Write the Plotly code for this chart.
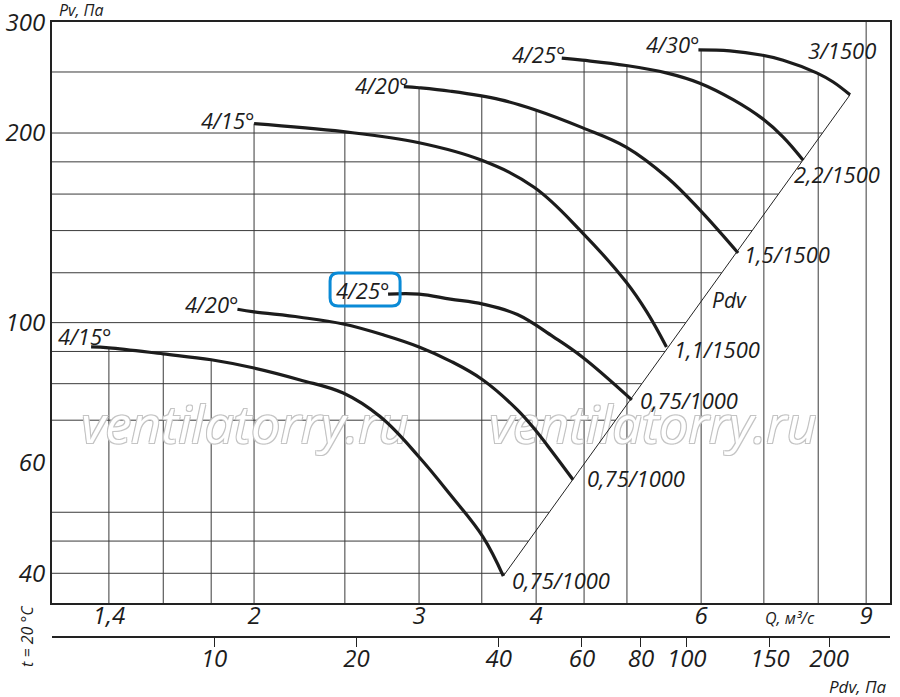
import numpy as np
import plotly.graph_objects as go

# fan curves, Q in m3/s and Pv in Pa
q_415_1000 = [1.34, 1.40, 1.60, 1.80, 2.00, 2.24, 2.49, 2.73, 3.00, 3.24, 3.51, 3.69]
pv_415_1000 = [91.5, 91.2, 89.2, 87.3, 84.7, 81.1, 77.3, 70.8, 61.2, 53.3, 45.7, 39.6]

q_420_1000 = [1.92, 2.00, 2.24, 2.49, 2.75, 3.00, 3.24, 3.51, 3.82, 3.99, 4.17, 4.38]
pv_420_1000 = [105, 104, 102, 99.5, 95.6, 91.5, 86.9, 81.1, 72.7, 67.6, 62.1, 56.3]

q_425_1000 = [2.78, 3.00, 3.24, 3.51, 3.82, 4.17, 4.48, 5.06]
pv_425_1000 = [111, 111, 109, 107, 103, 95, 88.2, 75.4]

q_415_1500 = [2.00, 2.49, 3.00, 3.50, 3.98, 4.48, 4.99, 5.25, 5.51]
pv_415_1500 = [207, 201, 193, 181, 164, 139, 116, 104, 91.5]

q_420_1500 = [2.89, 3.00, 3.24, 3.66, 3.98, 4.48, 4.99, 5.52, 5.98, 6.57]
pv_420_1500 = [237, 236, 233, 226, 218, 204, 190, 170, 151, 129]

q_425_1500 = [4.26, 4.48, 4.99, 5.52, 5.98, 6.49, 6.97, 7.34, 7.71]
pv_425_1500 = [263, 261, 256, 249, 240, 226, 211, 197, 181]

q_430_1500 = [5.96, 6.44, 6.95, 7.34, 7.98, 8.30, 8.65]
pv_430_1500 = [271, 270, 266, 261, 249, 241, 230]

start_labels = ["4/15°", "4/20°", "4/25°", "4/15°", "4/20°", "4/25°", "4/30°"]
end_labels = ["0,75/1000", "0,75/1000", "0,75/1000", "1,1/1500",
              "1,5/1500", "2,2/1500", "3/1500"]

# grid and ticks
q_grid = [1.4, 1.6, 1.8, 2, 2.5, 3, 3.5, 4, 4.5, 5, 6, 7, 8, 9]
pv_grid = [40, 45, 50, 70, 80, 90, 100, 120, 140, 160, 180, 200, 250]
q_ticks = [1.4, 2, 3, 4, 6, 9]
q_ticktext = ["1,4", "2", "3", "4", "6", "9"]
pv_ticks = [40, 60, 100, 200, 300]
pdv_ticks = [10, 20, 40, 60, 80, 100, 150, 200]

x_range = [0.0854, 0.9797]
y_range = [1.5549, 2.4773]

curves = [
    (q_415_1000, pv_415_1000),
    (q_420_1000, pv_420_1000),
    (q_425_1000, pv_425_1000),
    (q_415_1500, pv_415_1500),
    (q_420_1500, pv_420_1500),
    (q_425_1500, pv_425_1500),
    (q_430_1500, pv_430_1500),
]

# label offsets in pixels (start label: right edge, end label: left edge)
start_shift = [(23, 11), (4, 5), (4, 4), (3, 4), (7, 2), (6, 4), (4, 6)]
end_shift = [(7, -4), (12, 2), (6, 0), (6, -2), (4, -1), (-11, -14), (-8, 45)]


def logi(x, xp, fp):
    return 10 ** np.interp(np.log10(x), np.log10(xp), np.log10(fp))


# Pdv line joins the curve end points
q_pdv = [q_415_1000[-1], q_430_1500[-1]]
pv_pdv = [pv_415_1000[-1], pv_430_1500[-1]]

# vertical grid lines stop at the upper curve
gx, gy = [], []
for q in q_grid:
    tops = [logi(q, cq, cp) for cq, cp in curves if cq[0] <= q <= cq[-1]]
    top = max(tops) if tops else 10 ** y_range[1]
    gx += [q, q, None]
    gy += [10 ** y_range[0] * 0.9, top, None]

# horizontal grid lines stop at the Pdv line (or the last curve above it)
hx, hy = [], []
for p in pv_grid:
    if p <= pv_pdv[-1]:
        right = logi(p, pv_pdv, q_pdv)
    else:
        right = logi(p, pv_430_1500[::-1], q_430_1500[::-1])
    hx += [10 ** x_range[0] * 0.9, right, None]
    hy += [p, p, None]

fig = go.Figure()
grid_line = dict(color="#3a3a3a", width=1)
fig.add_trace(go.Scatter(x=gx, y=gy, mode="lines", line=grid_line, hoverinfo="skip"))
fig.add_trace(go.Scatter(x=hx, y=hy, mode="lines", line=grid_line, hoverinfo="skip"))

# watermark
wm = "ventilatorry.ru"
fig.add_trace(go.Scatter(
    x=[1.956, 5.33], y=[67.6, 67.6], mode="text", text=[wm, wm],
    textposition="middle center", hoverinfo="skip",
    textfont=dict(family="Open Sans", size=52, color="white", style="italic",
                  shadow="1px 1px 0 #c4c4c4, -1px -1px 0 #c4c4c4, 1px -1px 0 #c4c4c4, -1px 1px 0 #c4c4c4"),
))

for cq, cp in curves:
    fig.add_trace(go.Scatter(x=cq, y=cp, mode="lines", hoverinfo="skip",
                             line=dict(color="#1c1c1c", width=3.2, shape="spline", smoothing=1.1)))

fig.add_trace(go.Scatter(x=q_pdv, y=pv_pdv, mode="lines", hoverinfo="skip",
                         line=dict(color="#222", width=1)))

# dummy trace so the Pdv axis is drawn
fig.add_trace(go.Scatter(x=[pdv_ticks[0], pdv_ticks[-1]], y=[100, 100], xaxis="x2",
                         mode="none", hoverinfo="skip"))

lab_font = dict(family="Open Sans", size=22, color="#1c1c1c", style="italic")
for (cq, cp), txt, sh in zip(curves, start_labels, start_shift):
    fig.add_annotation(x=np.log10(cq[0]), y=np.log10(cp[0]), text=txt, showarrow=False,
                       xanchor="right", yanchor="middle", xshift=sh[0], yshift=sh[1],
                       font=lab_font)
for i, ((cq, cp), txt, sh) in enumerate(zip(curves, end_labels, end_shift)):
    fig.add_annotation(x=np.log10(cq[-1]), y=np.log10(cp[-1]), text=txt, showarrow=False,
                       xanchor="center" if i == 6 else "left", yanchor="middle",
                       xshift=sh[0], yshift=sh[1], font=lab_font)

small = dict(family="Open Sans", size=16, color="#1c1c1c", style="italic")
fig.add_annotation(xref="paper", yref="paper", x=0.006, y=1.0195, text="Pv, Па",
                   showarrow=False, xanchor="left", yanchor="middle", font=small)
fig.add_annotation(xref="paper", yref="paper", x=0.848, y=0.031, text="Q, м³/с",
                   showarrow=False, xanchor="left", yanchor="middle", font=small)
fig.add_annotation(xref="paper", yref="paper", x=0.9976, y=-0.0813, text="Pdv, Па",
                   showarrow=False, xanchor="right", yanchor="middle",
                   font=dict(small, size=17))
fig.add_annotation(xref="paper", yref="paper", x=-0.0298, y=0.0016, text="t = 20 °C",
                   showarrow=False, textangle=-90, xanchor="center", yanchor="middle",
                   font=small)
fig.add_annotation(xref="paper", yref="paper", x=0.809, y=0.548, text="Pdv",
                   showarrow=False, xanchor="center", yanchor="middle",
                   font=dict(lab_font, size=21))

# blue highlight round the lower 4/25° label
x0, x1, y0, y1, r = -58, 12, -12, 21, 8
box = (f"M{x0 + r},{y1} L{x1 - r},{y1} Q{x1},{y1} {x1},{y1 - r} "
       f"L{x1},{y0 + r} Q{x1},{y0} {x1 - r},{y0} L{x0 + r},{y0} "
       f"Q{x0},{y0} {x0},{y0 + r} L{x0},{y1 - r} Q{x0},{y1} {x0 + r},{y1} Z")
fig.add_shape(type="path", xref="x", yref="y", xsizemode="pixel", ysizemode="pixel",
              xanchor=q_425_1000[0], yanchor=pv_425_1000[0], path=box,
              line=dict(color="#0a8ad6", width=3), layer="above")

tick_font = dict(family="Open Sans", size=24, color="#1c1c1c", style="italic")
fig.update_layout(
    width=900, height=697,
    margin=dict(l=52, r=10, t=22, b=60, autoexpand=False),
    paper_bgcolor="white", plot_bgcolor="white",
    showlegend=False,
    font=dict(family="Open Sans", color="#1c1c1c"),
    xaxis=dict(type="log", range=x_range, showgrid=False, zeroline=False,
               showline=True, mirror=True, linewidth=2, linecolor="#222",
               automargin=False, ticklabelstandoff=-10,
               ticks="", tickvals=q_ticks, ticktext=q_ticktext, tickfont=tick_font),
    xaxis2=dict(type="log", range=[0.657, 2.43], overlaying="x", anchor="free",
                position=0, side="bottom", showgrid=False, zeroline=False,
                showline=True, linewidth=2, linecolor="#222", automargin=False,
                ticks="outside", ticklen=9, tickwidth=1, tickcolor="#222",
                ticklabelstandoff=-9,
                tickvals=pdv_ticks, ticktext=[str(v) for v in pdv_ticks],
                tickfont=tick_font),
    yaxis=dict(type="log", range=y_range, domain=[0.0553, 1], showgrid=False,
               zeroline=False, showline=True, mirror=True, linewidth=2,
               linecolor="#222", ticks="", tickvals=pv_ticks, automargin=False,
               ticklabelstandoff=0,
               ticktext=[str(v) for v in pv_ticks], tickfont=tick_font),
)

# drop the default 8px page margin so the figure sits at the window corner
fig.write_html("out.html", config={"displayModeBar": False},
               post_script="document.body.style.margin = '0';")
